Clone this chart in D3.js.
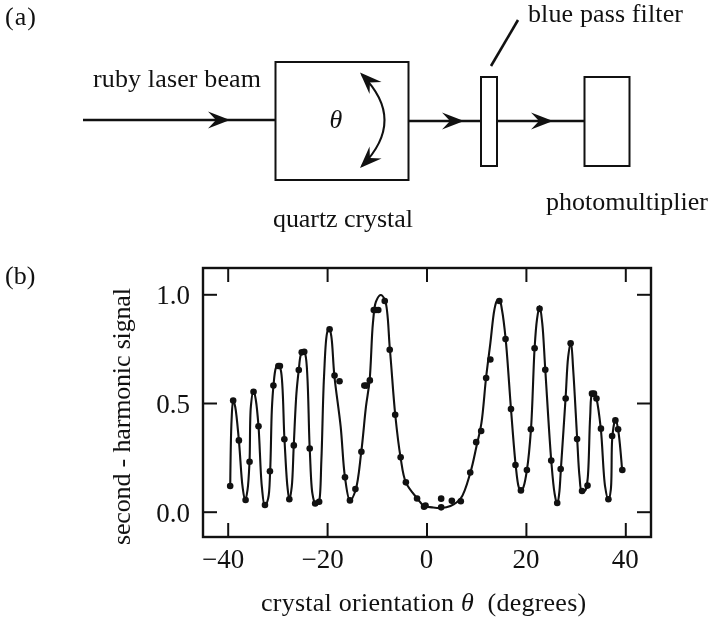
<!DOCTYPE html>
<html>
<head>
<meta charset="utf-8">
<script src="https://cdn.jsdelivr.net/npm/d3@7"></script>
<style>
  body { margin: 0; background: #fff; }
  svg { filter: blur(0.35px); }
  text { font-family: "Liberation Serif", serif; fill: #111; }
  .axis path { display: none; }
  .axis line { stroke: #111; stroke-width: 2; }
</style>
</head>
<body>
<div id="chart"></div>
<script>
// measured data points, panel (b)
const pointAngles = [-39.5,-38.9,-37.75,-36.4,-35.6,-34.8,-33.8,-32.5,-31.5,-30.8,-29.8,-29.5,-28.6,-27.6,-26.7,-25.7,-25.1,-24.6,-23.5,-22.4,-21.6,-19.5,-18.5,-17.5,-16.4,-15.4,-14.3,-13.1,-12.5,-12.1,-11.4,-10.6,-10.2,-9.7,-8.4,-7.4,-6.3,-5.2,-4.15,-1.9,-0.5,-0.2,2.95,2.95,5.1,6.9,8.8,10,11,12,12.85,14.66,15.9,17,17.9,19,20.2,21,21.75,22.75,23.9,25.1,26.3,27,28,29,30.3,31.3,32.4,33.3,33.7,34.2,35.1,36.6,37.35,38,38.55,39.4]
const pointSignals = [.118,.511,.328,.054,.23,.552,.393,.031,.186,.58,.67,.67,.333,.057,.305,.652,.733,.736,.291,.038,.046,.839,.626,.6,.158,.052,.104,.276,.58,.58,.604,.928,.928,.928,.969,.745,.446,.25,.135,.061,.023,.028,.02,.06,.05,.048,.18,.32,.371,.615,.70,.969,.794,.472,.215,.098,.192,.379,.752,.933,.653,.235,.04,.196,.521,.775,.334,.095,.12,.543,.543,.521,.382,.057,.348,.42,.379,.192]

// fitted curve
const curveAngles = [-39.49,-39.22,-38.89,-38.49,-37.75,-37.01,-36.48,-36.01,-35.61,-35.34,-34.8,-34.34,-33.8,-33.13,-32.53,-31.86,-31.46,-31.12,-30.79,-30.32,-29.85,-29.32,-28.58,-27.98,-27.58,-27.11,-26.71,-26.17,-25.7,-25.3,-24.83,-24.36,-23.5,-22.96,-22.42,-21.96,-21.62,-21.15,-20.62,-19.95,-19.55,-19.14,-18.54,-17.27,-16.4,-15.39,-14.26,-13.12,-12.18,-11.45,-10.78,-10.17,-9.24,-8.37,-7.36,-6.29,-5.22,-4.15,-1.87,-0.54,1.14,2.95,4.82,6.89,8.84,10.04,11.04,11.98,12.85,13.65,14.19,14.66,15.19,15.93,17,17.94,18.54,19,19.54,20.21,21.02,21.75,22.22,22.76,23.29,23.9,25.1,25.77,26.3,26.7,27.04,27.98,28.51,29.05,29.52,30.32,30.79,31.26,31.93,32.4,32.93,33.33,33.8,34.2,35.07,35.94,36.61,37.08,37.35,37.75,38.02,38.55,39.36]
const curveSignals = [.118,.422,.514,.483,.328,.115,.051,.1,.23,.483,.56,.514,.393,.115,.026,.061,.186,.468,.58,.66,.678,.652,.333,.115,.054,.115,.305,.544,.652,.721,.741,.721,.291,.084,.038,.034,.046,.238,.621,.828,.844,.805,.626,.391,.158,.051,.1,.276,.483,.604,.867,.966,.997,.974,.745,.446,.25,.135,.061,.027,.02,.017,.026,.061,.181,.299,.406,.615,.775,.928,.971,.977,.928,.794,.472,.215,.115,.092,.115,.192,.379,.752,.882,.946,.867,.653,.235,.084,.034,.084,.196,.521,.713,.782,.652,.334,.161,.092,.097,.146,.437,.543,.548,.521,.382,.115,.051,.1,.33,.406,.429,.379,.192]

const xTicks = [-40,-20,0,20,40]
const yTicks = [0,0.5,1]

const width = 711
const height = 621
const ink = '#111'

const svg = d3.select('#chart').append('svg').attr('width', width).attr('height', height)

// plot frame
const plotLeft = 203, plotRight = 651, plotTop = 268, plotBottom = 537

const xScale = d3.scaleLinear().domain([-40, 40]).range([227.7, 625.3])
const yScale = d3.scaleLinear().domain([0, 1]).range([511.7, 294.3])

const fmtX = d => d < 0 ? '\u2212' + Math.abs(d) : String(d)

// ticks point inward on all four sides
svg.append('g').attr('class', 'axis').attr('transform', `translate(0 ${plotBottom})`)
   .call(d3.axisBottom(xScale).tickValues(xTicks).tickSize(-14).tickFormat(''))
svg.append('g').attr('class', 'axis').attr('transform', `translate(0 ${plotTop})`)
   .call(d3.axisTop(xScale).tickValues(xTicks).tickSize(-14).tickFormat(''))
svg.append('g').attr('class', 'axis').attr('transform', `translate(${plotLeft} 0)`)
   .call(d3.axisLeft(yScale).tickValues(yTicks).tickSize(-14).tickFormat(''))
svg.append('g').attr('class', 'axis').attr('transform', `translate(${plotRight} 0)`)
   .call(d3.axisRight(yScale).tickValues(yTicks).tickSize(-14).tickFormat(''))

svg.append('rect').attr('x', plotLeft).attr('y', plotTop)
   .attr('width', plotRight - plotLeft).attr('height', plotBottom - plotTop)
   .attr('fill', 'none').attr('stroke', ink).attr('stroke-width', 2.4)

// tick labels, the negative ones sit a bit left of their tick
svg.selectAll('.xlab').data(xTicks).enter().append('text')
   .attr('class', 'xlab')
   .attr('x', d => xScale(d) - (d < 0 ? 4.5 : 0)).attr('y', 567.5)
   .attr('text-anchor', 'middle').attr('font-size', 27)
   .text(fmtX)
svg.selectAll('.ylab').data(yTicks).enter().append('text')
   .attr('class', 'ylab')
   .attr('x', 190).attr('y', d => yScale(d) + 10)
   .attr('text-anchor', 'end').attr('font-size', 27)
   .text(d => d.toFixed(1))

// curve and points
const line = d3.line()
   .x(i => xScale(curveAngles[i]))
   .y(i => yScale(curveSignals[i]))
   .curve(d3.curveCatmullRom.alpha(0.5))
svg.append('path').attr('d', line(d3.range(curveAngles.length)))
   .attr('fill', 'none').attr('stroke', ink).attr('stroke-width', 2.1)

svg.selectAll('circle').data(d3.range(pointAngles.length)).enter().append('circle')
   .attr('cx', i => xScale(pointAngles[i]))
   .attr('cy', i => yScale(pointSignals[i]))
   .attr('r', 3.3)
   .attr('fill', ink)

// axis titles
const xTitle = svg.append('text').attr('x', 261).attr('y', 611)
   .attr('font-size', 26).attr('letter-spacing', 0.25)
xTitle.append('tspan').text('crystal orientation ')
xTitle.append('tspan').attr('font-style', 'italic').text('\u03b8')
xTitle.append('tspan').text('\u00a0\u00a0(degrees)')

svg.append('text')
   .attr('transform', 'translate(130 416.5) rotate(-90)')
   .attr('text-anchor', 'middle').attr('font-size', 26)
   .attr('textLength', 257).attr('lengthAdjust', 'spacing')
   .text('second - harmonic signal')

// panel letters
svg.append('text').attr('x', 5).attr('y', 25).attr('font-size', 26).attr('letter-spacing', 1).text('(a)')
svg.append('text').attr('x', 5).attr('y', 284).attr('font-size', 26).text('(b)')

// panel (a) apparatus sketch
const boxes = svg.append('g').attr('fill', 'none').attr('stroke', ink).attr('stroke-width', 2)
boxes.append('rect').attr('x', 275.5).attr('y', 62).attr('width', 133).attr('height', 118)
boxes.append('rect').attr('x', 481).attr('y', 77).attr('width', 16).attr('height', 89)
boxes.append('rect').attr('x', 584.5).attr('y', 77).attr('width', 45).attr('height', 89)

const beam = svg.append('g').attr('stroke', ink).attr('stroke-width', 2.4)
beam.append('line').attr('x1', 83).attr('y1', 120).attr('x2', 275).attr('y2', 120)
beam.append('line').attr('x1', 409).attr('y1', 121).attr('x2', 481).attr('y2', 121)
beam.append('line').attr('x1', 497).attr('y1', 121).attr('x2', 584).attr('y2', 121)

// notched arrow head, tip at the origin, pointing along +x
const head = 'M0,0 L-22,-8.5 L-14,0 L-22,8.5 Z'
function arrow(x, y, angle) {
  svg.append('path').attr('d', head).attr('fill', ink)
     .attr('transform', `translate(${x} ${y}) rotate(${angle})`)
}
arrow(230, 120, 0)
arrow(464, 121, 0)
arrow(553, 121, 0)

// rotation arc inside the crystal box
svg.append('path').attr('d', 'M362,75 Q407,120 362,166')
   .attr('fill', 'none').attr('stroke', ink).attr('stroke-width', 2)
arrow(360, 72.5, -135)
arrow(360, 168, 135)

svg.append('text').attr('x', 336).attr('y', 128).attr('text-anchor', 'middle')
   .attr('font-size', 26).attr('font-style', 'italic').text('\u03b8')

// leader line for the filter
svg.append('line').attr('x1', 491).attr('y1', 66).attr('x2', 518).attr('y2', 20)
   .attr('stroke', ink).attr('stroke-width', 2.6)

// labels, stretched to the widths measured on the reference
const labels = svg.append('g').attr('font-size', 26)
labels.append('text').attr('x', 93).attr('y', 87).attr('textLength', 168).text('ruby laser beam')
labels.append('text').attr('x', 273).attr('y', 227).attr('textLength', 140).text('quartz crystal')
labels.append('text').attr('x', 528).attr('y', 22).attr('textLength', 155).text('blue pass filter')
labels.append('text').attr('x', 546).attr('y', 210).attr('textLength', 162).text('photomultiplier')
</script>
</body>
</html>
